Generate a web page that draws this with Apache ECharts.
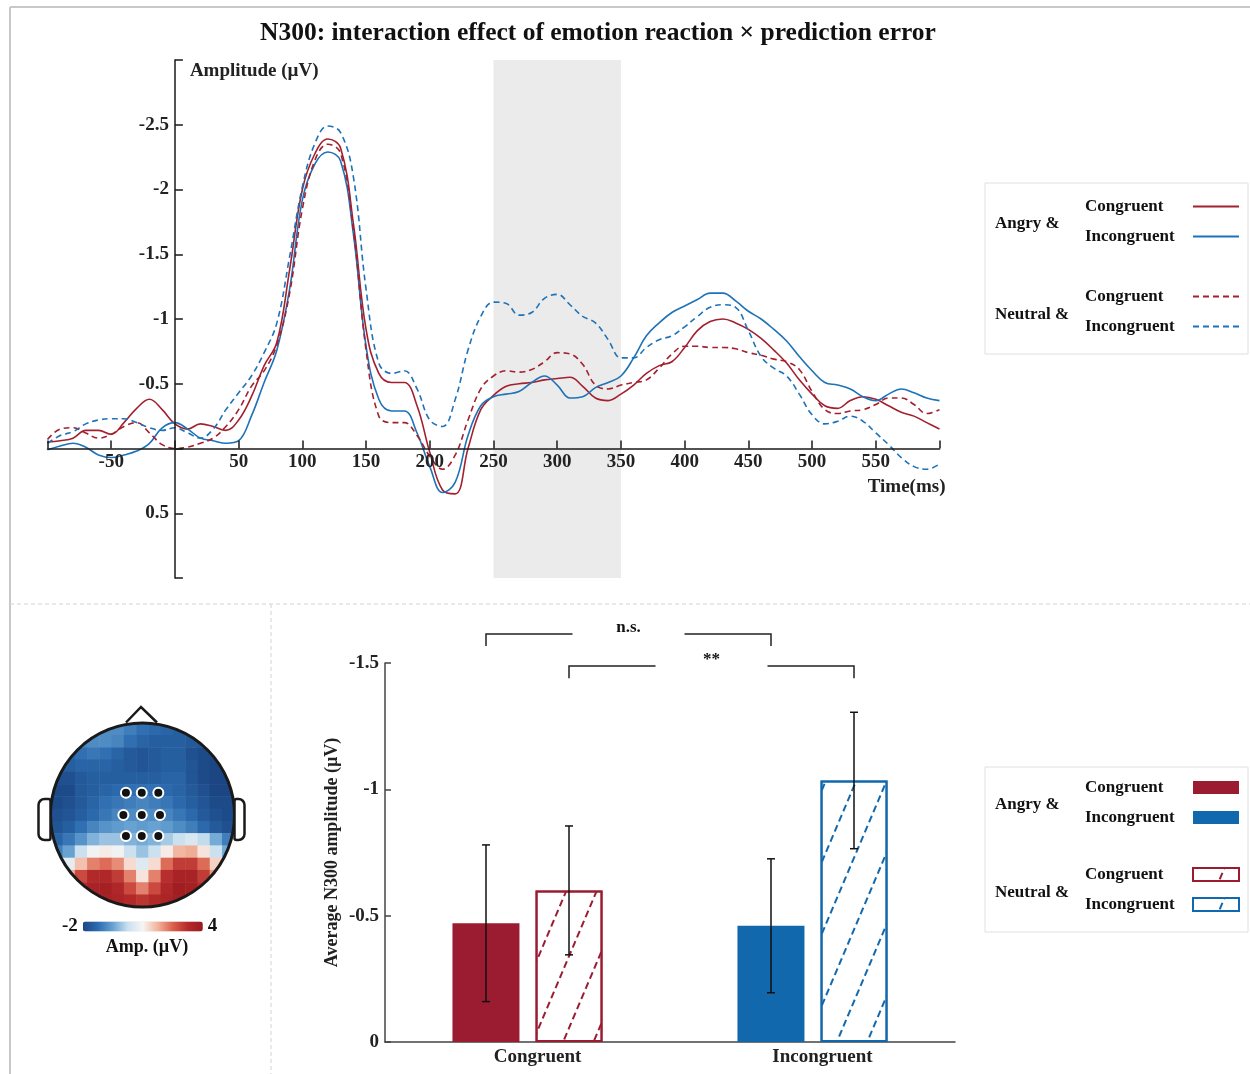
<!DOCTYPE html>
<html>
<head>
<meta charset="utf-8">
<script src="https://cdn.jsdelivr.net/npm/echarts@6/dist/echarts.min.js"></script>
<style>
html, body { margin: 0; padding: 0; background: #fff; }
#main { width: 1250px; height: 1074px; }
</style>
</head>
<body>
<div id="main"></div>
<script>
// ---- ERP waveforms (µV), sampled every 10 ms from -100 to 600 ----
var times = [];
for (var t = -100; t <= 600; t += 10) times.push(t);

var angryCongruent = [-0.05,-0.06,-0.08,-0.14,-0.14,-0.11,-0.20,-0.31,-0.38,-0.30,
  -0.19,-0.15,-0.19,-0.17,-0.14,-0.22,-0.40,-0.64,-0.82,-1.38,
  -2.00,-2.28,-2.39,-2.32,-1.74,-0.92,-0.58,-0.51,-0.51,-0.33,
  0.03,0.32,0.35,0.00,-0.30,-0.41,-0.48,-0.50,-0.51,-0.53,
  -0.54,-0.55,-0.48,-0.39,-0.37,-0.42,-0.49,-0.58,-0.64,-0.67,
  -0.78,-0.91,-0.98,-1.00,-0.97,-0.92,-0.85,-0.76,-0.66,-0.53,
  -0.42,-0.33,-0.31,-0.37,-0.40,-0.38,-0.33,-0.28,-0.25,-0.20,-0.15];
var angryIncongruent = [0.01,-0.02,-0.04,-0.01,0.05,0.07,0.05,0.02,-0.04,-0.16,
  -0.20,-0.15,-0.08,-0.06,-0.04,-0.06,-0.25,-0.51,-0.76,-1.23,
  -1.92,-2.20,-2.29,-2.22,-1.66,-0.79,-0.38,-0.29,-0.29,-0.12,
  0.14,0.34,0.26,-0.10,-0.33,-0.40,-0.42,-0.44,-0.51,-0.56,
  -0.49,-0.39,-0.40,-0.47,-0.51,-0.56,-0.70,-0.87,-0.97,-1.05,
  -1.10,-1.15,-1.20,-1.20,-1.14,-1.06,-1.00,-0.92,-0.83,-0.71,
  -0.60,-0.51,-0.49,-0.46,-0.40,-0.37,-0.42,-0.46,-0.43,-0.39,-0.37];
var neutralCongruent = [-0.07,-0.15,-0.16,-0.12,-0.08,-0.11,-0.17,-0.20,-0.12,-0.03,
  0.00,-0.01,-0.04,-0.08,-0.17,-0.30,-0.48,-0.60,-0.80,-1.20,
  -1.85,-2.23,-2.35,-2.28,-1.69,-0.76,-0.25,-0.20,-0.20,-0.10,
  0.06,0.16,0.05,-0.22,-0.46,-0.56,-0.60,-0.59,-0.61,-0.67,
  -0.74,-0.73,-0.65,-0.49,-0.46,-0.49,-0.51,-0.53,-0.62,-0.73,
  -0.79,-0.79,-0.78,-0.78,-0.77,-0.74,-0.72,-0.69,-0.67,-0.61,
  -0.44,-0.30,-0.27,-0.29,-0.30,-0.34,-0.39,-0.39,-0.34,-0.27,-0.30];
var neutralIncongruent = [-0.04,-0.10,-0.13,-0.19,-0.22,-0.23,-0.23,-0.20,-0.16,-0.14,
  -0.16,-0.12,-0.08,-0.15,-0.30,-0.43,-0.56,-0.74,-0.97,-1.48,
  -2.02,-2.36,-2.49,-2.44,-2.10,-1.23,-0.66,-0.58,-0.60,-0.46,
  -0.22,-0.17,-0.38,-0.76,-1.02,-1.13,-1.12,-1.03,-1.05,-1.16,
  -1.19,-1.11,-1.02,-0.97,-0.84,-0.70,-0.70,-0.78,-0.84,-0.87,
  -0.94,-1.02,-1.09,-1.11,-1.09,-0.91,-0.71,-0.62,-0.56,-0.42,
  -0.26,-0.19,-0.21,-0.25,-0.21,-0.12,-0.03,0.07,0.14,0.16,0.12];
var windowStart = 250, windowEnd = 350;

// ---- bar chart: mean N300 amplitude and SE ----
var barCategories = ['Congruent', 'Incongruent'];
var angryMeans = [-0.47, -0.46];
var angrySE = [0.31, 0.265];
var neutralMeans = [-0.60, -1.035];
var neutralSE = [0.255, 0.27];
var sigLabels = ['n.s.', '**'];

// ---- scalp map (µV), 15 x 15 samples, top row = frontal ----
var topoRows = [
  [-1.1,-1.1,-1.0,-0.9,-0.8,-0.8,-1.0,-1.2,-1.3,-1.4,-1.5,-1.6,-1.6,-1.7,-1.7],
  [-1.2,-1.1,-0.9,-0.8,-0.8,-0.9,-1.2,-1.4,-1.5,-1.5,-1.5,-1.6,-1.7,-1.8,-1.8],
  [-1.5,-1.4,-1.2,-1.1,-1.2,-1.4,-1.6,-1.7,-1.6,-1.5,-1.5,-1.8,-1.9,-1.9,-1.9],
  [-1.6,-1.5,-1.4,-1.4,-1.4,-1.5,-1.6,-1.7,-1.6,-1.5,-1.5,-1.7,-1.9,-2.0,-2.0],
  [-1.8,-1.8,-1.6,-1.5,-1.5,-1.5,-1.5,-1.5,-1.5,-1.4,-1.4,-1.7,-1.9,-2.0,-2.0],
  [-1.9,-1.9,-1.6,-1.5,-1.4,-1.3,-1.2,-1.2,-1.2,-1.3,-1.4,-1.6,-1.8,-2.0,-2.0],
  [-1.9,-1.8,-1.6,-1.4,-1.2,-1.1,-1.0,-0.9,-1.0,-1.1,-1.3,-1.5,-1.7,-1.9,-1.9],
  [-1.8,-1.7,-1.5,-1.3,-1.1,-0.9,-0.8,-0.8,-0.8,-0.9,-1.1,-1.3,-1.6,-1.8,-1.9],
  [-1.7,-1.5,-1.2,-0.9,-0.7,-0.6,-0.5,-0.6,-0.5,-0.6,-0.8,-1.0,-1.3,-1.6,-1.8],
  [-1.4,-1.1,-0.7,-0.3,-0.1,-0.1,-0.3,-0.4,-0.3,0.0,0.3,0.5,0.2,-0.4,-1.0],
  [-1.0,-0.5,0.3,0.9,1.1,0.9,0.3,-0.1,0.3,1.1,1.7,1.8,1.2,0.3,-0.4],
  [-0.2,0.7,1.6,2.2,2.4,2.1,1.3,0.6,1.3,2.4,3.0,3.0,2.4,1.4,0.4],
  [0.8,1.8,2.8,3.3,3.4,3.0,2.2,1.2,2.2,3.2,3.6,3.6,3.0,2.0,1.0],
  [1.6,2.6,3.2,3.6,3.7,3.4,2.8,2.2,2.8,3.4,3.8,3.7,3.2,2.5,1.8],
  [2.2,3.0,3.4,3.6,3.6,3.5,3.3,3.1,3.3,3.5,3.7,3.6,3.3,2.8,2.2]
];
var electrodeX = [0.41, 0.496, 0.586, 0.396, 0.496, 0.595, 0.41, 0.496, 0.586];
var electrodeY = [0.379, 0.379, 0.379, 0.5, 0.5, 0.5, 0.614, 0.614, 0.614];

var FONT = "'Liberation Serif', 'Times New Roman', serif";
var RED = '#a3202f', BLUE = '#1d72b8';
var BAR_RED = '#9b1c31', BAR_BLUE = '#1168ad';
var INK = '#1a1a1a';

function pairs(vals) {
  return vals.map(function (v, i) { return [times[i], v]; });
}
var topoIdx = topoRows[0].map(function (_, i) { return i; });
var topoData = [];
topoRows.forEach(function (row, r) {
  row.forEach(function (v, c) { topoData.push([c, r, v]); });
});
var electrodes = electrodeX.map(function (x, i) { return [x, electrodeY[i]]; });

function shortName(name) {
  return '{t|' + (name.indexOf('Incongruent') > -1 ? 'Incongruent' : 'Congruent') + '}';
}
var legendText = {
  rich: { t: { width: 103, align: 'left', fontFamily: FONT, fontWeight: 'bold', fontSize: 17, color: '#111', lineHeight: 20 } }
};
function legendBox(names, top, h) {
  return {
    data: names, left: 1085, top: top, orient: 'vertical', align: 'right',
    itemWidth: 46, itemHeight: h, itemGap: 13, padding: 0, selectedMode: false,
    formatter: shortName, textStyle: legendText
  };
}
function hatch(color) {
  return { symbol: 'rect', symbolSize: 1, color: color, dashArrayX: [7, 4], dashArrayY: [2, 26], rotation: -1.17 };
}
var axisFont = { fontFamily: FONT, fontWeight: 'bold', fontSize: 19, color: '#222' };
var bracketLevels = [-1.615, -1.488];

var chart = echarts.init(document.getElementById('main'));
var option = {
  backgroundColor: '#fff',
  animation: false,
  title: {
    text: 'N300: interaction effect of emotion reaction \u00d7 prediction error',
    left: 255, top: 15,
    textStyle: { fontFamily: FONT, fontWeight: 'bold', fontSize: 25.5, color: '#111' }
  },
  grid: [
    { left: 47.5, top: 60, width: 892, height: 518 },
    { left: 385, top: 663, width: 570, height: 379 },
    { left: 50.5, top: 723, width: 184, height: 184 },
    { left: 50.5, top: 723, width: 184, height: 184 }
  ],
  xAxis: [
    {
      // axis drawn through y = 0 (offset moves it up from the grid bottom)
      gridIndex: 0, type: 'value', min: -100, max: 600, interval: 50, z: 4,
      position: 'bottom', offset: -129.5,
      axisLine: { onZero: false, lineStyle: { color: INK, width: 1.5 } },
      axisTick: { inside: true, length: 8, lineStyle: { color: INK, width: 1.5 } },
      axisLabel: Object.assign({ margin: 4, formatter: function (v) { return (v === -100 || v === 0 || v === 600) ? '' : String(v); } }, axisFont),
      splitLine: { show: false },
      name: 'Time(ms)', nameLocation: 'end', nameGap: 6,
      nameTextStyle: Object.assign({ align: 'right', verticalAlign: 'top', padding: [29, 0, 0, 0] }, axisFont)
    },
    {
      gridIndex: 1, type: 'category', data: barCategories,
      axisLine: { lineStyle: { color: '#444', width: 1.5 } },
      axisTick: { show: false },
      axisLabel: Object.assign({ margin: 6, padding: [0, 0, 0, 20] }, axisFont)
    },
    { gridIndex: 2, type: 'category', data: topoIdx, show: false },
    { gridIndex: 3, type: 'value', min: 0, max: 1, show: false }
  ],
  yAxis: [
    {
      // axis drawn through t = 0 ms
      gridIndex: 0, type: 'value', inverse: true, min: -3, max: 1, interval: 0.5, z: 4,
      position: 'left', offset: -127.4,
      axisLine: { onZero: false, lineStyle: { color: INK, width: 1.5 } },
      axisTick: { inside: true, length: 8, lineStyle: { color: INK, width: 1.5 } },
      axisLabel: Object.assign({ margin: 6, formatter: function (v) { return (v === -3 || v === 0 || v === 1) ? '' : String(v); } }, axisFont),
      splitLine: { show: false },
      name: 'Amplitude (\u00b5V)', nameLocation: 'start', nameGap: -11,
      nameTextStyle: Object.assign({ align: 'left', verticalAlign: 'middle', padding: [0, 0, 0, 15] }, axisFont)
    },
    {
      gridIndex: 1, type: 'value', inverse: true, min: -1.5, max: 0, interval: 0.5,
      axisLine: { show: true, lineStyle: { color: '#444', width: 1.5 } },
      axisTick: { show: true, inside: true, length: 6, lineStyle: { color: '#444', width: 1.5 } },
      axisLabel: Object.assign({ margin: 6 }, axisFont),
      splitLine: { show: false },
      name: 'Average N300 amplitude (\u00b5V)', nameLocation: 'middle', nameGap: 44,
      nameTextStyle: { fontFamily: FONT, fontWeight: 'bold', fontSize: 18, color: '#222' }
    },
    { gridIndex: 2, type: 'category', data: topoIdx, inverse: true, show: false },
    { gridIndex: 3, type: 'value', min: 0, max: 1, inverse: true, show: false }
  ],
  legend: [
    Object.assign(legendBox(['Angry & Congruent', 'Angry & Incongruent'], 198, 14), { itemStyle: { opacity: 0 } }),
    Object.assign(legendBox(['Neutral & Congruent', 'Neutral & Incongruent'], 288, 14), { itemStyle: { opacity: 0 } }),
    Object.assign(legendBox(['Angry & Congruent (bar)', 'Angry & Incongruent (bar)'], 779, 13), { icon: 'rect' }),
    Object.assign(legendBox(['Neutral & Congruent (bar)', 'Neutral & Incongruent (bar)'], 866, 13), { icon: 'rect' })
  ],
  visualMap: {
    type: 'continuous', seriesIndex: 10, min: -2, max: 4,
    orient: 'horizontal', left: 47, top: 902, itemWidth: 10, itemHeight: 120,
    text: ['4', '-2'], textGap: 5, calculable: false, hoverLink: false, z: 5,
    inRange: { color: ['#1b4683', '#2c6baf', '#67a2d2', '#c9e0ef', '#f7f5f3', '#f2b39b', '#d9604d', '#b42a2b', '#991a1e'] },
    textStyle: { fontFamily: FONT, fontWeight: 'bold', fontSize: 19, color: '#111' }
  },
  series: [
    {
      name: 'Angry & Congruent', type: 'line', xAxisIndex: 0, yAxisIndex: 0,
      data: pairs(angryCongruent), smooth: 0.4, symbol: 'none',
      lineStyle: { color: RED, width: 1.6 }, itemStyle: { color: RED },
      markArea: { silent: true, itemStyle: { color: '#ebebeb' }, data: [[{ xAxis: windowStart }, { xAxis: windowEnd }]] }
    },
    {
      name: 'Angry & Incongruent', type: 'line', xAxisIndex: 0, yAxisIndex: 0,
      data: pairs(angryIncongruent), smooth: 0.4, symbol: 'none',
      lineStyle: { color: BLUE, width: 1.6 }, itemStyle: { color: BLUE }
    },
    {
      name: 'Neutral & Congruent', type: 'line', xAxisIndex: 0, yAxisIndex: 0,
      data: pairs(neutralCongruent), smooth: 0.4, symbol: 'none',
      lineStyle: { color: RED, width: 1.6, type: [6, 4] }, itemStyle: { color: RED }
    },
    {
      name: 'Neutral & Incongruent', type: 'line', xAxisIndex: 0, yAxisIndex: 0,
      data: pairs(neutralIncongruent), smooth: 0.4, symbol: 'none',
      lineStyle: { color: BLUE, width: 1.6, type: [6, 4] }, itemStyle: { color: BLUE }
    },
    {
      name: 'Angry & Congruent (bar)', type: 'bar', xAxisIndex: 1, yAxisIndex: 1, stack: 'angry',
      data: [angryMeans[0], '-'], barWidth: 67, barGap: '24%', itemStyle: { color: BAR_RED }
    },
    {
      name: 'Angry & Incongruent (bar)', type: 'bar', xAxisIndex: 1, yAxisIndex: 1, stack: 'angry',
      data: ['-', angryMeans[1]], barWidth: 67, barGap: '24%', itemStyle: { color: BAR_BLUE }
    },
    {
      name: 'Neutral & Congruent (bar)', type: 'bar', xAxisIndex: 1, yAxisIndex: 1, stack: 'neutral',
      data: [neutralMeans[0], '-'], barWidth: 67, barGap: '24%',
      itemStyle: { color: '#fff', borderColor: BAR_RED, borderWidth: 2, decal: hatch(BAR_RED) }
    },
    {
      name: 'Neutral & Incongruent (bar)', type: 'bar', xAxisIndex: 1, yAxisIndex: 1, stack: 'neutral',
      data: ['-', neutralMeans[1]], barWidth: 67, barGap: '24%',
      itemStyle: { color: '#fff', borderColor: BAR_BLUE, borderWidth: 2, decal: hatch(BAR_BLUE) }
    },
    {
      // error bars (mean ± SE); slot -1 = Angry bar, +1 = Neutral bar
      type: 'custom', xAxisIndex: 1, yAxisIndex: 1, z: 5, silent: true,
      data: [[0, -1, angryMeans[0], angrySE[0]], [1, -1, angryMeans[1], angrySE[1]],
             [0, 1, neutralMeans[0], neutralSE[0]], [1, 1, neutralMeans[1], neutralSE[1]]],
      encode: { x: 0, y: 2 },
      renderItem: function (params, api) {
        var m = api.value(2), se = api.value(3);
        var x = api.coord([api.value(0), m])[0] + api.value(1) * 41.5;
        var y1 = api.coord([api.value(0), m - se])[1];
        var y2 = api.coord([api.value(0), m + se])[1];
        var st = { stroke: '#111', lineWidth: 1.5 };
        return { type: 'group', children: [
          { type: 'line', shape: { x1: x, y1: y1, x2: x, y2: y2 }, style: st },
          { type: 'line', shape: { x1: x - 4, y1: y1, x2: x + 4, y2: y1 }, style: st },
          { type: 'line', shape: { x1: x - 4, y1: y2, x2: x + 4, y2: y2 }, style: st }
        ] };
      }
    },
    {
      // significance brackets: Angry C vs I (n.s.), Neutral C vs I (**)
      type: 'custom', xAxisIndex: 1, yAxisIndex: 1, z: 5, silent: true, clip: false,
      data: [[0, -1, 1, -1, bracketLevels[0], 0], [0, 1, 1, 1, bracketLevels[1], 1]],
      encode: { x: 0, y: 4 },
      renderItem: function (params, api) {
        var lvl = api.value(4);
        var xa = api.coord([api.value(0), lvl])[0] + api.value(1) * 41.5;
        var xb = api.coord([api.value(2), lvl])[0] + api.value(3) * 41.5;
        var y = api.coord([0, lvl])[1];
        var yLeg = api.coord([0, lvl + 0.048])[1];
        var xm = (xa + xb) / 2;
        var st = { stroke: '#222', lineWidth: 1.5, fill: null };
        return { type: 'group', children: [
          { type: 'polyline', shape: { points: [[xa, yLeg], [xa, y], [xm - 56, y]] }, style: st },
          { type: 'polyline', shape: { points: [[xm + 56, y], [xb, y], [xb, yLeg]] }, style: st },
          { type: 'text', style: { text: sigLabels[api.value(5)], x: xm, y: y - 6, align: 'center', verticalAlign: 'middle',
            fontFamily: FONT, fontWeight: 'bold', fontSize: 17, fill: '#111' } }
        ] };
      }
    },
    {
      type: 'heatmap', xAxisIndex: 2, yAxisIndex: 2, data: topoData, silent: true,
      itemStyle: { borderWidth: 0 }, progressive: 0
    },
    {
      type: 'scatter', xAxisIndex: 3, yAxisIndex: 3, data: electrodes, z: 6, silent: true,
      symbolSize: 10, itemStyle: { color: '#111', borderColor: '#fff', borderWidth: 2, opacity: 1 }
    }
  ],
  graphic: [
    // mask outside the scalp, head outline, nose and ears
    { type: 'circle', z: 3, silent: true, shape: { cx: 142.5, cy: 815, r: 112 }, style: { fill: null, stroke: '#fff', lineWidth: 40 } },
    { type: 'circle', z: 5, silent: true, shape: { cx: 142.5, cy: 815, r: 92 }, style: { fill: null, stroke: INK, lineWidth: 3 } },
    { type: 'polyline', z: 5, silent: true, shape: { points: [[126, 722.5], [141, 707], [157, 722.5]] }, style: { stroke: INK, lineWidth: 2.5, fill: null } },
    { type: 'rect', z: 5, silent: true, shape: { x: 38.5, y: 799, width: 12, height: 41, r: [6, 2, 2, 6] }, style: { stroke: INK, lineWidth: 2.5, fill: '#fff' } },
    { type: 'rect', z: 5, silent: true, shape: { x: 234.5, y: 799, width: 10, height: 41, r: [2, 6, 6, 2] }, style: { stroke: INK, lineWidth: 2.5, fill: '#fff' } },
    { type: 'text', z: 10, silent: true, style: { text: 'Amp. (\u00b5V)', x: 147, y: 947, align: 'center', verticalAlign: 'middle', fontFamily: FONT, fontWeight: 'bold', fontSize: 18, fill: '#111' } },
    // panel frame and separators
    { type: 'line', z: 10, silent: true, shape: { x1: 10, y1: 7, x2: 1250, y2: 7 }, style: { stroke: '#c8c8c8', lineWidth: 2 } },
    { type: 'line', z: 10, silent: true, shape: { x1: 10, y1: 7, x2: 10, y2: 1074 }, style: { stroke: '#c8c8c8', lineWidth: 2 } },
    { type: 'line', z: 10, silent: true, shape: { x1: 10, y1: 604, x2: 1250, y2: 604 }, style: { stroke: '#d2d2d2', lineWidth: 1, lineDash: [4, 3] } },
    { type: 'line', z: 10, silent: true, shape: { x1: 271, y1: 604, x2: 271, y2: 1074 }, style: { stroke: '#d2d2d2', lineWidth: 1, lineDash: [4, 3] } },
    // legend frames and group labels
    { type: 'rect', z: 1, silent: true, shape: { x: 985, y: 183, width: 263, height: 171 }, style: { fill: null, stroke: '#e0e0e0', lineWidth: 1 } },
    { type: 'rect', z: 1, silent: true, shape: { x: 985, y: 767, width: 263, height: 165 }, style: { fill: null, stroke: '#e0e0e0', lineWidth: 1 } },
    { type: 'text', z: 10, silent: true, style: { text: 'Angry &', x: 995, y: 224, verticalAlign: 'middle', fontFamily: FONT, fontWeight: 'bold', fontSize: 17, fill: '#111' } },
    { type: 'text', z: 10, silent: true, style: { text: 'Neutral &', x: 995, y: 315, verticalAlign: 'middle', fontFamily: FONT, fontWeight: 'bold', fontSize: 17, fill: '#111' } },
    { type: 'text', z: 10, silent: true, style: { text: 'Angry &', x: 995, y: 805, verticalAlign: 'middle', fontFamily: FONT, fontWeight: 'bold', fontSize: 17, fill: '#111' } },
    { type: 'text', z: 10, silent: true, style: { text: 'Neutral &', x: 995, y: 893, verticalAlign: 'middle', fontFamily: FONT, fontWeight: 'bold', fontSize: 17, fill: '#111' } }
  ]
};
chart.setOption(option);
</script>
</body>
</html>
